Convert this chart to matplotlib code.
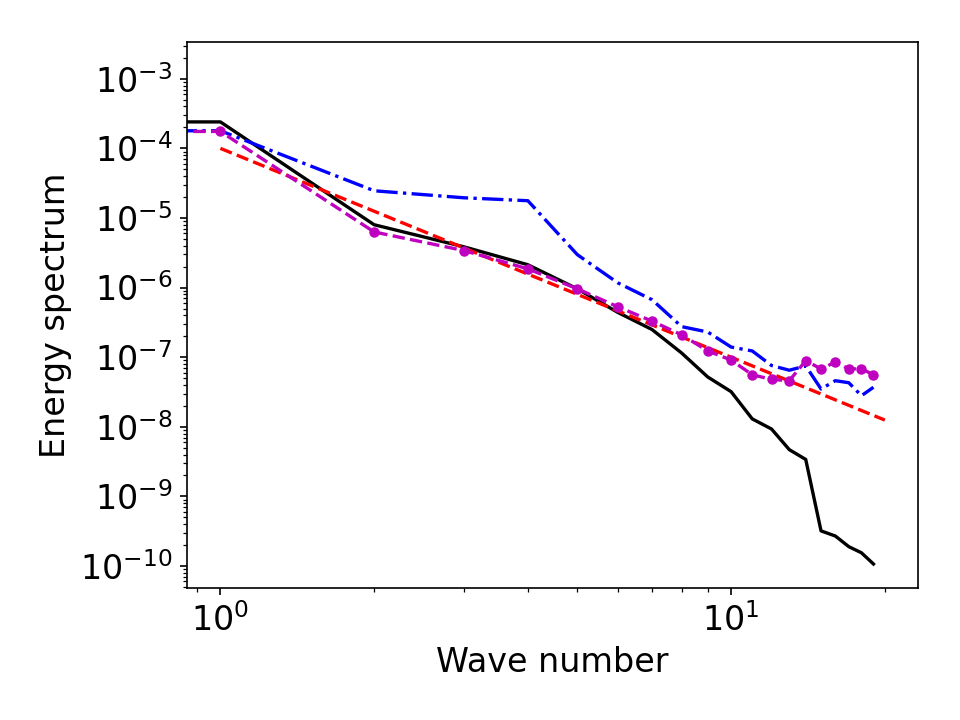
import numpy as np
import matplotlib
matplotlib.use('Agg')
import matplotlib.pyplot as plt

# wave numbers (k=0 is clipped by the log axis)
k = np.arange(0, 20)

E_black = [1.5e-3, 2.4e-4, 8.0e-6, 3.85e-6, 2.13e-6, 9.6e-7, 4.4e-7, 2.5e-7,
           1.15e-7, 5.2e-8, 3.2e-8, 1.3e-8, 9.3e-9, 4.7e-9, 3.4e-9, 3.2e-10,
           2.7e-10, 1.9e-10, 1.55e-10, 1.07e-10]
E_blue = [1.0e-3, 1.79e-4, 2.46e-5, 1.95e-5, 1.77e-5, 2.97e-6, 1.17e-6, 6.7e-7,
          2.75e-7, 2.3e-7, 1.4e-7, 1.23e-7, 7.6e-8, 6.5e-8, 7.5e-8, 3.5e-8,
          4.6e-8, 4.3e-8, 2.8e-8, 3.7e-8]
E_magenta = [1.0e-3, 1.75e-4, 6.3e-6, 3.4e-6, 1.86e-6, 9.6e-7, 5.3e-7, 3.3e-7,
             2.1e-7, 1.23e-7, 9.1e-8, 5.6e-8, 4.8e-8, 4.6e-8, 8.9e-8, 6.8e-8,
             8.5e-8, 6.8e-8, 6.8e-8, 5.6e-8]

# reference slope line
k_ref = [1, 20]
E_ref = [1.0e-4, 1.25e-8]

fs = 16

fig = plt.figure(figsize=(6.4, 4.8), dpi=150)
ax = fig.add_subplot(111)
ax.loglog(k, E_black, 'k-', lw=1.6)
ax.loglog(k, E_blue, 'b-.', lw=1.6)
ax.loglog(k_ref, E_ref, 'r--', lw=1.6)
ax.loglog(k, E_magenta, 'm--o', lw=1.6, markersize=4)

ax.set_xlim(0.861, 23.2)
ax.set_ylim(4.8e-11, 3.4e-3)
ax.set_xlabel('Wave number', fontsize=fs)
ax.set_ylabel('Energy spectrum', fontsize=fs)
ax.tick_params(labelsize=fs)
ax.yaxis.set_major_locator(matplotlib.ticker.LogLocator(base=10, numticks=20))

fig.subplots_adjust(left=0.195, right=0.956, top=0.942, bottom=0.183)
fig.savefig('out.png', dpi=150)
